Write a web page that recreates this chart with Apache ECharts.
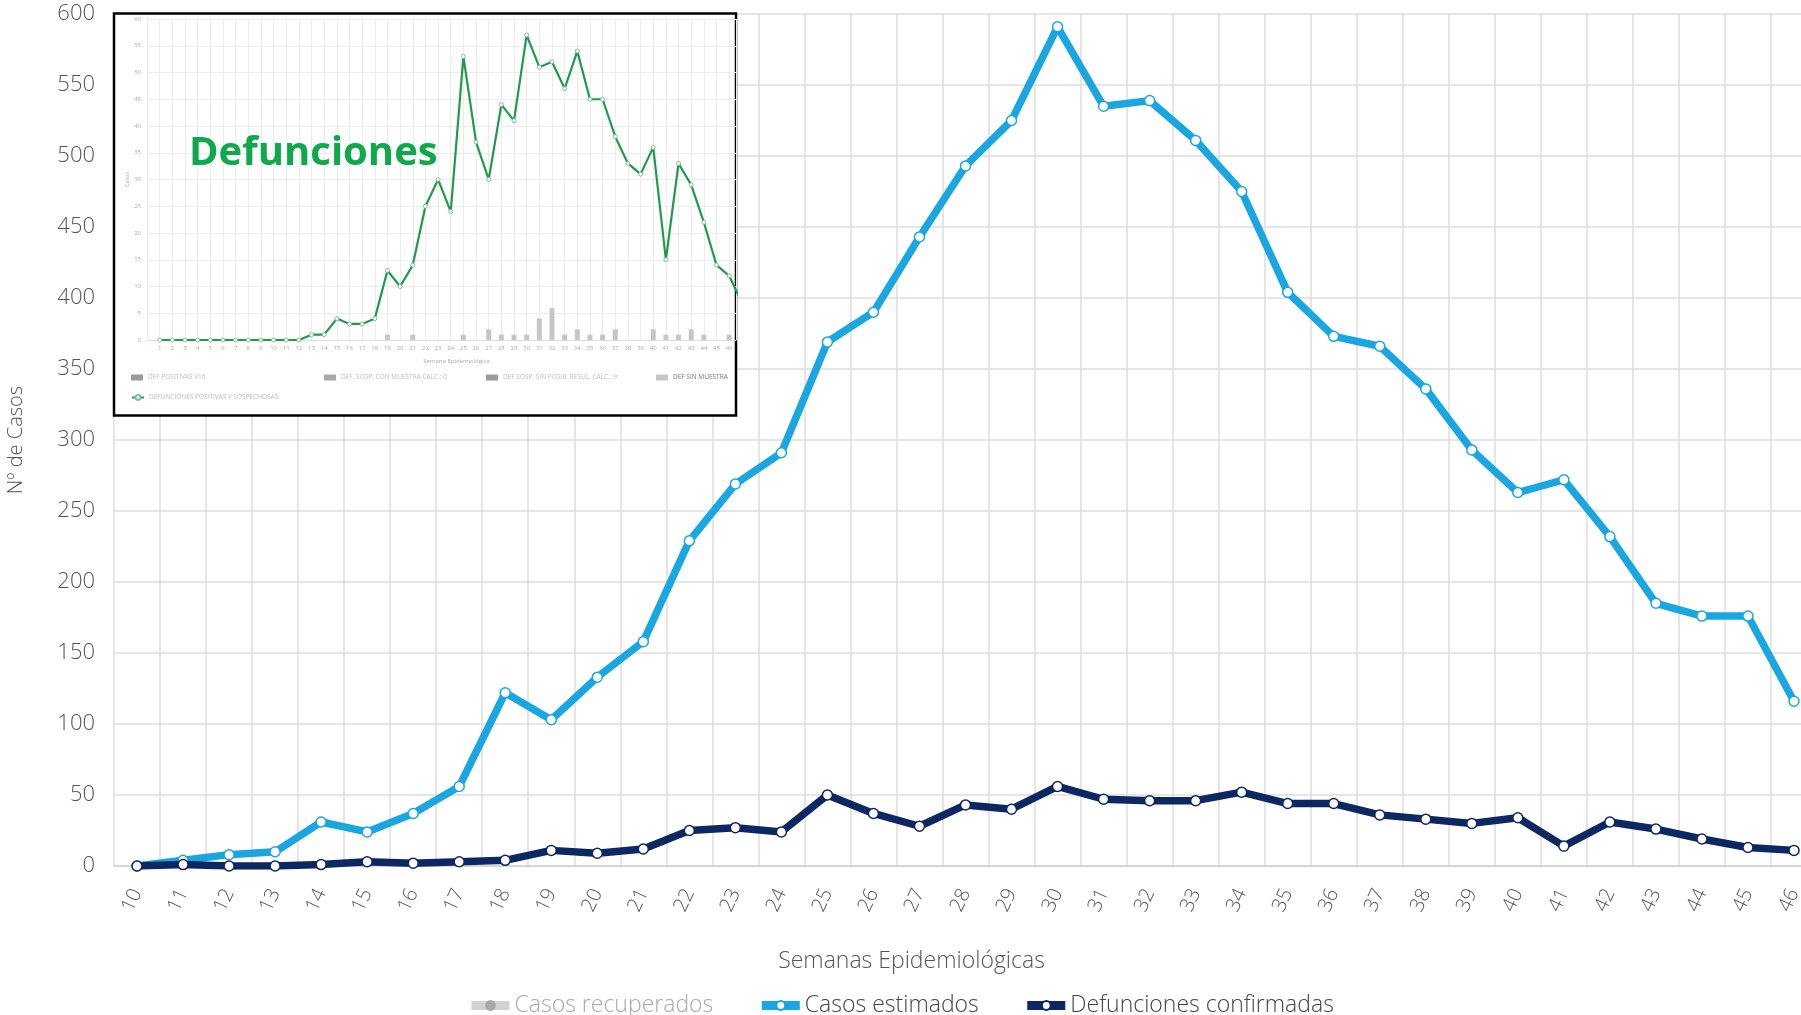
<!DOCTYPE html>
<html><head><meta charset="utf-8">
<script src="https://cdn.jsdelivr.net/npm/echarts@6/dist/echarts.min.js"></script>
<style>html,body{margin:0;padding:0;background:#fff}#c{width:1801px;height:1015px}</style>
</head><body><div id="c"></div>
<script>
// ---- main chart data ----
const weeks = ['10','11','12','13','14','15','16','17','18','19','20','21','22','23','24','25','26','27','28','29','30','31','32','33','34','35','36','37','38','39','40','41','42','43','44','45','46'];
const casosRecuperados = [];
const casosEstimados = [0,4,8,10,31,24,37,56,122,103,133,158,229,269,291,369,390,443,493,525,591,535,539,511,475,404,373,366,336,293,263,272,232,185,176,176,116];
const defuncionesConfirmadas = [0,1,0,0,1,3,2,3,4,11,9,12,25,27,24,50,37,28,43,40,56,47,46,46,52,44,44,36,33,30,34,14,31,26,19,13,11];

// ---- inset ("Defunciones") data ----
const insetWeeks = [1,2,3,4,5,6,7,8,9,10,11,12,13,14,15,16,17,18,19,20,21,22,23,24,25,26,27,28,29,30,31,32,33,34,35,36,37,38,39,40,41,42,43,44,45,46,47];
const insetDefunciones = [0,0,0,0,0,0,0,0,0,0,0,0,1,1,4,3,3,4,13,10,14,25,30,24,53,37,30,44,41,57,51,52,47,54,45,45,38,33,31,36,15,33,29,22,14,12,7];
const insetBarWeeks = [19,21,25,27,28,29,30,31,32,33,34,35,36,37,40,41,42,43,44,46];
const insetBarValues = [1,1,1,2,1,1,1,4,6,1,2,1,1,2,2,1,1,2,1,1];
const insetLegendNames = ['DEF POSITIVAS 916','DEF. SOSP. CON MUESTRA CALC.: 0','DEF SOSP. SIN POSIB. RESUL. CALC.: 9','DEF SIN MUESTRA','DEFUNCIONES POSITIVAS Y SOSPECHOSAS'];

const FONT = '"Open Sans", Lato, "Noto Sans", sans-serif';
const chart = echarts.init(document.getElementById('c'), null, {renderer:'canvas'});

const barPairs = insetBarWeeks.map((w,i)=>[w, insetBarValues[i]]);
const linePairs = insetWeeks.map((w,i)=>[w, insetDefunciones[i]]);

const insetLegendBase = {
  z: 12, orient:'horizontal', itemWidth: 12, itemHeight: 6, itemGap: 4,
  textStyle: {fontSize: 6.5, color: '#bbb', fontFamily: FONT}, padding: 0
};

const option = {
  backgroundColor: '#fff',
  animation: false,
  textStyle: {fontFamily: FONT},
  grid: [
    {left: 114, width: 1703, top: 14, bottom: 149, containLabel: false, outerBoundsMode: 'none'},
    {left: 147, right: 1065, top: 19, bottom: 675, containLabel: false, outerBoundsMode: 'none', z: 11}
  ],
  legend: [
    {
      data: ['Casos recuperados','Casos estimados','Defunciones confirmadas'],
      left: 462, top: 989, itemWidth: 38, itemHeight: 11, itemGap: 44,
      selected: {'Casos recuperados': false},
      inactiveColor: '#a9a9a9', inactiveBorderColor: '#a9a9a9',
      lineStyle: {width: 9, inactiveWidth: 9},
      textStyle: {fontSize: 23, fontWeight: 300, color: '#444', fontFamily: FONT}
    },
    Object.assign({}, insetLegendBase, {data:[{name: insetLegendNames[0], icon:'rect'}], left: 131, top: 374}),
    Object.assign({}, insetLegendBase, {data:[{name: insetLegendNames[1], icon:'rect'}], left: 324, top: 374}),
    Object.assign({}, insetLegendBase, {data:[{name: insetLegendNames[2], icon:'rect'}], left: 486, top: 374}),
    Object.assign({}, insetLegendBase, {data:[{name: insetLegendNames[3], icon:'rect'}], left: 656, top: 374, textStyle:{fontSize:6.5, color:'#777', fontFamily: FONT}}),
    Object.assign({}, insetLegendBase, {data:[insetLegendNames[4]], left: 131, top: 394})
  ],
  xAxis: [
    {
      type: 'category', data: weeks, gridIndex: 0, boundaryGap: true,
      axisLine: {show: true, lineStyle: {color: '#cfcfcf', width: 1.5}},
      axisTick: {show: false},
      axisLabel: {interval: 0, rotate: 65, fontSize: 20, fontWeight: 300, color: '#555', margin: 24, fontFamily: FONT},
      splitLine: {show: true, lineStyle: {color: '#dcdcdc', width: 1.5}},
      name: 'Semanas Epidemiológicas', nameLocation: 'middle', nameGap: 84,
      nameTextStyle: {fontSize: 23, fontWeight: 300, color: '#555', fontFamily: FONT, padding: [0, 108, 0, 0]}
    },
    {
      type: 'value', gridIndex: 1, min: 0, max: 46.54, interval: 1, z: 11,
      axisLine: {show: true, lineStyle: {color: '#ddd'}},
      axisTick: {show: false},
      axisLabel: {fontSize: 6, color: '#aaa', margin: 5, formatter: v => (v === 0 ? '' : String(v))},
      splitLine: {show: true, lineStyle: {color: '#ececec', width: 1}},
      name: 'Semana Epidemiológica', nameLocation: 'middle', nameGap: 18,
      nameTextStyle: {fontSize: 6, color: '#aaa', padding: [0, 0, 0, 30]}
    }
  ],
  yAxis: [
    {
      type: 'value', gridIndex: 0, min: 0, max: 600, interval: 50,
      axisLine: {show: false}, axisTick: {show: false},
      axisLabel: {fontSize: 22, fontWeight: 300, color: '#555', margin: 19, fontFamily: FONT},
      splitLine: {show: true, lineStyle: {color: '#dcdcdc', width: 1.5}},
      name: 'Nº de Casos', nameLocation: 'middle', nameGap: 88,
      nameTextStyle: {fontSize: 20, fontWeight: 300, color: '#555', fontFamily: FONT}
    },
    {
      type: 'value', gridIndex: 1, min: 0, max: 60, interval: 5, z: 11,
      axisLine: {show: false}, axisTick: {show: false},
      axisLabel: {fontSize: 6, color: '#aaa', margin: 6},
      splitLine: {show: true, lineStyle: {color: '#ececec', width: 1}},
      name: 'Casos', nameLocation: 'middle', nameGap: 17,
      nameTextStyle: {fontSize: 5.5, color: '#aaa'}
    }
  ],
  series: [
    {
      name: 'Casos recuperados', type: 'line', xAxisIndex: 0, yAxisIndex: 0,
      data: casosRecuperados, color: '#a9a9a9',
      symbol: 'circle', symbolSize: 10,
      lineStyle: {color: '#a9a9a9', width: 7},
      itemStyle: {color: '#fff', borderColor: '#a9a9a9', borderWidth: 1.5}
    },
    {
      name: 'Casos estimados', type: 'line', xAxisIndex: 0, yAxisIndex: 0,
      data: casosEstimados, color: '#1aa7e1', z: 3,
      symbol: 'circle', symbolSize: 10,
      lineStyle: {color: '#1aa7e1', width: 7.5},
      itemStyle: {color: '#fff', borderColor: '#1aa7e1', borderWidth: 1.5}
    },
    {
      name: 'Defunciones confirmadas', type: 'line', xAxisIndex: 0, yAxisIndex: 0,
      data: defuncionesConfirmadas, color: '#0c2762', z: 4,
      symbol: 'circle', symbolSize: 10,
      lineStyle: {color: '#0c2762', width: 7.5},
      itemStyle: {color: '#fff', borderColor: '#0c2762', borderWidth: 1.5}
    },
    {
      name: insetLegendNames[0], type: 'bar', xAxisIndex: 1, yAxisIndex: 1, z: 12,
      data: [], barWidth: 5, barGap: '-100%', itemStyle: {color: '#9a9a9a'}
    },
    {
      name: insetLegendNames[1], type: 'bar', xAxisIndex: 1, yAxisIndex: 1, z: 12,
      data: [], barWidth: 5, barGap: '-100%', itemStyle: {color: '#a8a8a8'}
    },
    {
      name: insetLegendNames[2], type: 'bar', xAxisIndex: 1, yAxisIndex: 1, z: 12,
      data: [], barWidth: 5, barGap: '-100%', itemStyle: {color: '#9a9a9a'}
    },
    {
      name: insetLegendNames[3], type: 'bar', xAxisIndex: 1, yAxisIndex: 1, z: 12,
      data: barPairs, barWidth: 5, barGap: '-100%', itemStyle: {color: '#c6c6c6'}
    },
    {
      name: insetLegendNames[4], type: 'line', xAxisIndex: 1, yAxisIndex: 1, z: 13,
      data: linePairs, clip: true, color: '#1e9b4c',
      symbol: 'circle', symbolSize: 4,
      lineStyle: {color: '#1e9b4c', width: 2.2},
      itemStyle: {color: '#fff', borderColor: '#7fbf95', borderWidth: 1}
    }
  ],
  graphic: [
    {
      type: 'rect', z: 10,
      shape: {x: 114, y: 13.5, width: 622, height: 402},
      style: {fill: '#fff', stroke: '#000', lineWidth: 2.5}
    },
    {
      type: 'text', z: 30, left: 189, top: 134,
      style: {text: 'Defunciones', fill: '#0fa84d', font: 'bold 40px "Open Sans", "Noto Sans", sans-serif'}
    }
  ]
};
chart.setOption(option);
</script>
</body></html>
